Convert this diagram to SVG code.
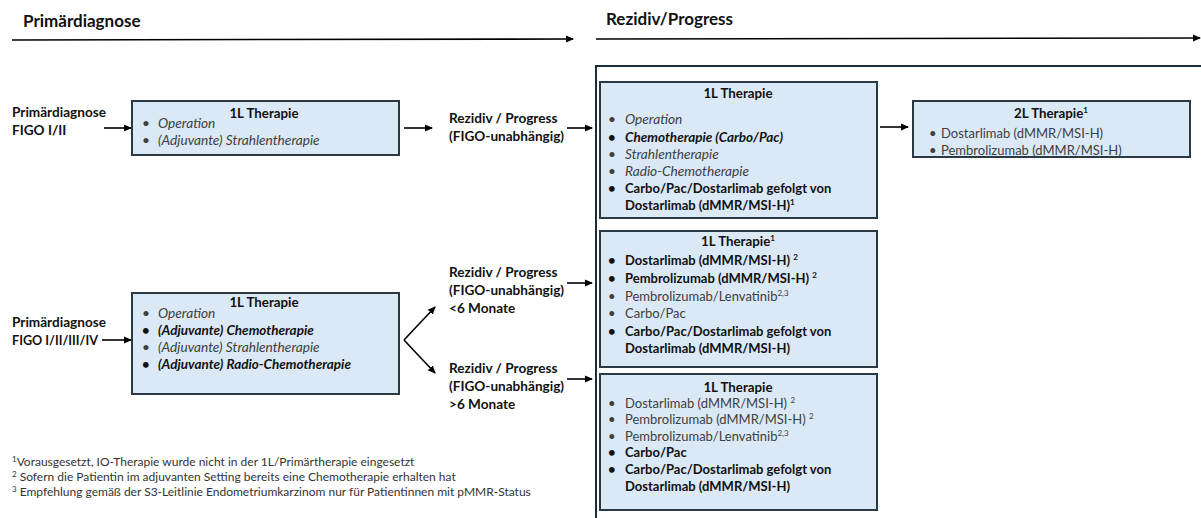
<svg xmlns="http://www.w3.org/2000/svg" width="1201" height="518" viewBox="0 0 1201 518">
<style>
text{font-family:Lato,"Open Sans","Liberation Sans",sans-serif;fill:#262626}
.h{font-size:17px;font-weight:bold;fill:#111}
.lbl{font-size:13.6px;font-weight:bold;fill:#111}
.t{font-size:13px}
.ttl{font-size:13.3px;font-weight:bold;fill:#111;text-anchor:middle}
.b{font-weight:bold;fill:#111}
.i{font-style:italic;fill:#404040;font-size:13.7px}
.bi{font-style:italic;font-weight:bold;fill:#111;font-size:13.5px}
.g{fill:#404040}
.fn{font-size:12px;fill:#333}
.box{fill:#dbe8f5;stroke:#2b3945;stroke-width:2}
.con{stroke:#000;stroke-width:1.6;fill:none;marker-end:url(#ah)}
</style>
<defs>
<marker id="ah" markerUnits="userSpaceOnUse" markerWidth="8" markerHeight="8" refX="7" refY="4" orient="auto">
<path d="M0,0.5 L8,4 L0,7.5 Z" fill="#000"/>
</marker>
</defs>
<rect width="1201" height="518" fill="#fff"/>

<g id="headers">
<text class="h" x="23" y="27">Primärdiagnose</text>
<text class="h" x="606" y="25">Rezidiv/Progress</text>
</g>

<g id="frame">
<path d="M596,518 V66 H1201" fill="none" stroke="#1c2e3e" stroke-width="2"/>
</g>

<g id="connectors">
<line class="con" x1="12" y1="40" x2="573" y2="39"/>
<line class="con" x1="596" y1="39" x2="1200" y2="38"/>
<line class="con" x1="104" y1="128" x2="131" y2="128"/>
<line class="con" x1="404" y1="128" x2="432" y2="128"/>
<line class="con" x1="567" y1="128" x2="592" y2="128"/>
<line class="con" x1="880" y1="127" x2="908" y2="127"/>
<line class="con" x1="102" y1="340" x2="131" y2="340"/>
<line class="con" x1="404" y1="340" x2="435" y2="307"/>
<line class="con" x1="404" y1="340" x2="435" y2="373"/>
<line class="con" x1="567" y1="283" x2="592" y2="283"/>
<line class="con" x1="567" y1="379" x2="592" y2="379"/>
</g>

<g id="label-primaer1">
<text class="lbl" x="12" y="117">Primärdiagnose</text>
<text class="lbl" x="12" y="135">FIGO I/II</text>
</g>

<g id="box-1L-primaer1">
<rect class="box" x="132" y="101" width="267" height="54"/>
<text class="ttl" x="264" y="118">1L Therapie</text>
<text class="t i" x="142" y="128">•</text><text class="t i" x="158" y="128">Operation</text>
<text class="t i" x="142" y="145">•</text><text class="t i" x="158" y="145">(Adjuvante) Strahlentherapie</text>
</g>

<g id="label-rezidiv1">
<text class="lbl" x="449" y="123">Rezidiv / Progress</text>
<text class="lbl" x="449" y="141">(FIGO-unabhängig)</text>
</g>

<g id="box-1L-rezidiv1">
<rect class="box" x="600" y="82" width="277" height="136"/>
<text class="ttl" x="738" y="98">1L Therapie</text>
<g class="t">
<text class="i" x="608" y="124">•</text><text class="i" x="625" y="124">Operation</text>
<text class="b" x="608" y="142">•</text><text class="bi" x="625" y="142">Chemotherapie (Carbo/Pac)</text>
<text class="i" x="608" y="159">•</text><text class="i" x="625" y="159">Strahlentherapie</text>
<text class="i" x="608" y="176">•</text><text class="i" x="625" y="176">Radio-Chemotherapie</text>
<text class="b" x="608" y="193">•</text><text class="b" x="625" y="193">Carbo/Pac/Dostarlimab gefolgt von</text>
<text class="b" x="625" y="210">Dostarlimab (dMMR/MSI-H)<tspan font-size="8" dy="-5">1</tspan></text>
</g>
</g>

<g id="box-2L">
<rect class="box" x="913" y="101" width="277" height="56"/>
<text class="ttl" x="1051" y="118">2L Therapie<tspan font-size="8" dy="-5">1</tspan></text>
<g class="t">
<text class="g" x="929" y="138">•</text><text class="g" x="941" y="138">Dostarlimab (dMMR/MSI-H)</text>
<text class="g" x="929" y="155">•</text><text class="g" x="941" y="155">Pembrolizumab (dMMR/MSI-H)</text>
</g>
</g>

<g id="label-primaer2">
<text class="lbl" x="12" y="327">Primärdiagnose</text>
<text class="lbl" x="12" y="345" textLength="86" lengthAdjust="spacingAndGlyphs">FIGO I/II/III/IV</text>
</g>

<g id="box-1L-primaer2">
<rect class="box" x="132" y="293" width="267" height="101"/>
<text class="ttl" x="264" y="307">1L Therapie</text>
<g class="t">
<text class="i" x="142" y="318">•</text><text class="i" x="158" y="318">Operation</text>
<text class="b" x="142" y="335">•</text><text class="bi" x="158" y="335">(Adjuvante) Chemotherapie</text>
<text class="i" x="142" y="352">•</text><text class="i" x="158" y="352">(Adjuvante) Strahlentherapie</text>
<text class="b" x="142" y="369">•</text><text class="bi" x="158" y="369">(Adjuvante) Radio-Chemotherapie</text>
</g>
</g>

<g id="label-rezidiv-lt6">
<text class="lbl" x="449" y="277">Rezidiv / Progress</text>
<text class="lbl" x="449" y="295">(FIGO-unabhängig)</text>
<text class="lbl" x="449" y="313">&lt;6 Monate</text>
</g>

<g id="label-rezidiv-gt6">
<text class="lbl" x="449" y="373">Rezidiv / Progress</text>
<text class="lbl" x="449" y="391">(FIGO-unabhängig)</text>
<text class="lbl" x="449" y="409">&gt;6 Monate</text>
</g>

<g id="box-1L-lt6">
<rect class="box" x="600" y="231" width="277" height="136"/>
<text class="ttl" x="738" y="246">1L Therapie<tspan font-size="8" dy="-5">1</tspan></text>
<g class="t">
<text class="b" x="608" y="265">•</text><text class="b" x="625" y="265">Dostarlimab (dMMR/MSI-H) <tspan font-size="8" dy="-5">2</tspan></text>
<text class="b" x="608" y="283">•</text><text class="b" x="625" y="283">Pembrolizumab (dMMR/MSI-H) <tspan font-size="8" dy="-5">2</tspan></text>
<text class="g" x="608" y="301">•</text><text class="g" x="625" y="301">Pembrolizumab/Lenvatinib<tspan font-size="8" dy="-5">2,3</tspan></text>
<text class="g" x="608" y="318">•</text><text class="g" x="625" y="318">Carbo/Pac</text>
<text class="b" x="608" y="336">•</text><text class="b" x="625" y="336">Carbo/Pac/Dostarlimab gefolgt von</text>
<text class="b" x="625" y="353">Dostarlimab (dMMR/MSI-H)</text>
</g>
</g>

<g id="box-1L-gt6">
<rect class="box" x="600" y="374" width="277" height="136"/>
<text class="ttl" x="738" y="392">1L Therapie</text>
<g class="t">
<text class="g" x="608" y="408">•</text><text class="g" x="625" y="408">Dostarlimab (dMMR/MSI-H) <tspan font-size="8" dy="-5">2</tspan></text>
<text class="g" x="608" y="424">•</text><text class="g" x="625" y="424">Pembrolizumab (dMMR/MSI-H) <tspan font-size="8" dy="-5">2</tspan></text>
<text class="g" x="608" y="441">•</text><text class="g" x="625" y="441">Pembrolizumab/Lenvatinib<tspan font-size="8" dy="-5">2,3</tspan></text>
<text class="b" x="608" y="457">•</text><text class="b" x="625" y="457">Carbo/Pac</text>
<text class="b" x="608" y="474">•</text><text class="b" x="625" y="474">Carbo/Pac/Dostarlimab gefolgt von</text>
<text class="b" x="625" y="491">Dostarlimab (dMMR/MSI-H)</text>
</g>
</g>

<g id="footnotes">
<text class="fn" x="12" y="466"><tspan font-size="8" dy="-4">1</tspan><tspan dy="4">Vorausgesetzt, IO-Therapie wurde nicht in der 1L/Primärtherapie eingesetzt</tspan></text>
<text class="fn" x="12" y="481"><tspan font-size="8" dy="-4">2</tspan><tspan dy="4"> Sofern die Patientin im adjuvanten Setting bereits eine Chemotherapie erhalten hat</tspan></text>
<text class="fn" x="12" y="496"><tspan font-size="8" dy="-4">3</tspan><tspan dy="4"> Empfehlung gemäß der S3-Leitlinie Endometriumkarzinom nur für Patientinnen mit pMMR-Status</tspan></text>
</g>
</svg>
